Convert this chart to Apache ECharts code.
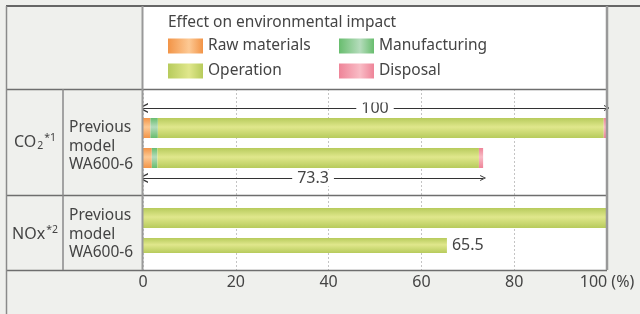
<!DOCTYPE html>
<html>
<head>
<meta charset="utf-8">
<script src="https://cdn.jsdelivr.net/npm/echarts@6/dist/echarts.min.js"></script>
<style>
  html, body { margin: 0; padding: 0; background: #eff0ed; }
  #chart { width: 640px; height: 314px; }
</style>
</head>
<body>
<div id="chart"></div>
<script>
// data
const groupLabels = ['{b|CO}{sub|2}{sup|*1}', '{b|NOx}{sup|*2}'];
const modelLabels = ['Previous\nmodel', 'WA600-6'];
const seriesNames = ['Raw materials', 'Manufacturing', 'Operation', 'Disposal'];
// rows: CO2 previous, CO2 WA600-6, NOx previous, NOx WA600-6
const rawMaterials = [1.6, 1.9, 0, 0];
const manufacturing = [1.6, 1.2, 0, 0];
const operation = [96.1, 69.3, 100, 65.5];
const disposal = [0.7, 0.9, 0, 0];
const co2Totals = [100, 73.3];
const xTicks = [0, 20, 40, 60, 80, 100];

// layout: 10px slots, bars and arrows placed in them
const slotCount = 15;
const barSlots = [2, 5, 11, 14];
const arrowSlots = [0, 7];

const slots = Array.from({ length: slotCount }, (_, i) => 's' + i);
const toSlots = (values, showLabelAt) => {
  const out = slots.map(() => '-');
  barSlots.forEach((s, i) => {
    if (values[i] > 0) {
      out[s] = { value: values[i] };
      if (showLabelAt === i) out[s].label = { show: true };
    }
  });
  return out;
};

const vGrad = (edge, mid) => ({
  type: 'linear', x: 0, y: 0, x2: 0, y2: 1,
  colorStops: [
    { offset: 0, color: edge },
    { offset: 0.45, color: mid },
    { offset: 1, color: edge }
  ]
});
const hGrad = (edge, mid) => ({
  type: 'linear', x: 0, y: 0, x2: 1, y2: 0,
  colorStops: [
    { offset: 0, color: edge },
    { offset: 0.6, color: mid },
    { offset: 1, color: edge }
  ]
});
const palette = [
  ['#f29447', '#fdc994'],
  ['#68bd6e', '#b5dcbc'],
  ['#b7cb5c', '#e0e78c'],
  ['#ee8498', '#f9bcc6']
];

const font = 'Noto Sans';
const textColor = '#444';

const chart = echarts.init(document.getElementById('chart'));

const chevron = 'path://M0,10 L5,0 L10,10 L8.4,10 L5,3.2 L1.6,10 Z';

const legendBase = {
  orient: 'vertical', top: 38, padding: 0,
  itemWidth: 35, itemHeight: 15, itemGap: 9, itemTextGap: 5,
  icon: 'rect',
  textStyle: { fontFamily: font, fontSize: 15.5, color: textColor }
};

const option = {
  backgroundColor: '#eff0ed',
  textStyle: { fontFamily: font },
  animation: false,
  title: {
    text: 'Effect on environmental impact',
    left: 168, top: 15, padding: 0,
    textStyle: { fontFamily: font, fontSize: 15.5, fontWeight: 'normal', color: textColor }
  },
  legend: [
    Object.assign({}, legendBase, {
      left: 168,
      data: [0, 2].map(i => ({ name: seriesNames[i], itemStyle: { color: hGrad(palette[i][0], palette[i][1]) } }))
    }),
    Object.assign({}, legendBase, {
      left: 339,
      data: [1, 3].map(i => ({ name: seriesNames[i], itemStyle: { color: hGrad(palette[i][0], palette[i][1]) } }))
    })
  ],
  grid: [
    { left: 143, right: 33, top: 89, bottom: 44 },
    { left: 143, right: 33, top: 103, bottom: 61 }
  ],
  xAxis: [
    {
      gridIndex: 0, type: 'value', min: 0, max: 100, interval: 20,
      axisLine: { show: false }, axisTick: { show: false },
      axisLabel: {
        margin: 4, fontFamily: font, fontSize: 16, color: textColor,
        formatter: v => (v === 100 ? '100 (%)' : String(v))
      },
      splitLine: { show: true, lineStyle: { color: '#c4c4c4', type: [2, 2], width: 1 } }
    },
    {
      gridIndex: 1, type: 'value', min: 0, max: 100,
      axisLine: { show: false }, axisTick: { show: false },
      axisLabel: { show: false }, splitLine: { show: false }
    }
  ],
  yAxis: [
    { gridIndex: 0, type: 'category', data: [''], show: false },
    { gridIndex: 1, type: 'category', data: slots, inverse: true, show: false }
  ],
  series: [
    ...[rawMaterials, manufacturing, operation, disposal].map((vals, i) => ({
      name: seriesNames[i],
      type: 'bar',
      stack: 'total',
      xAxisIndex: 1, yAxisIndex: 1,
      barWidth: 20,
      itemStyle: { color: vGrad(palette[i][0], palette[i][1]) },
      label: {
        show: false, position: 'right', distance: 5,
        fontFamily: font, fontSize: 16, color: textColor
      },
      data: toSlots(vals, i === 2 ? 3 : -1)
    })),
    {
      type: 'lines',
      coordinateSystem: 'cartesian2d',
      xAxisIndex: 1, yAxisIndex: 1,
      symbol: [chevron, chevron],
      symbolSize: [10, 6],
      lineStyle: { color: '#333', width: 1.2, opacity: 1, curveness: 0 },
      label: {
        show: true, position: 'middle', distance: 0, verticalAlign: 'middle',
        fontFamily: font, fontSize: 16, color: textColor,
        backgroundColor: '#fff', padding: [0, 5],
        formatter: p => String(p.data.total)
      },
      data: co2Totals.map((t, i) => ({
        total: t,
        coords: [[0, arrowSlots[i]], [t, arrowSlots[i]]]
      }))
    }
  ],
  graphic: [
    { type: 'rect', z: -1, silent: true, shape: { x: 143, y: 6, width: 464, height: 264 }, style: { fill: '#fff' } },
    // table lines
    { type: 'line', z: 100, shape: { x1: 6, y1: 6, x2: 640, y2: 6 }, style: { stroke: '#666', lineWidth: 2 } },
    { type: 'line', z: 100, shape: { x1: 6, y1: 89.5, x2: 607, y2: 89.5 }, style: { stroke: '#6e6e6e', lineWidth: 1.5 } },
    { type: 'line', z: 100, shape: { x1: 6, y1: 195.5, x2: 607, y2: 195.5 }, style: { stroke: '#6e6e6e', lineWidth: 1.5 } },
    { type: 'line', z: 100, shape: { x1: 6, y1: 270.5, x2: 607, y2: 270.5 }, style: { stroke: '#6e6e6e', lineWidth: 1.5 } },
    { type: 'line', z: 100, shape: { x1: 6.5, y1: 6, x2: 6.5, y2: 314 }, style: { stroke: '#8a8a8a', lineWidth: 1.5 } },
    { type: 'line', z: 100, shape: { x1: 63, y1: 89, x2: 63, y2: 270 }, style: { stroke: '#8a8a8a', lineWidth: 1.5 } },
    { type: 'line', z: 100, shape: { x1: 142.5, y1: 6, x2: 142.5, y2: 270 }, style: { stroke: '#999', lineWidth: 2 } },
    { type: 'line', z: 100, shape: { x1: 607, y1: 6, x2: 607, y2: 270 }, style: { stroke: '#999', lineWidth: 2.5 } },
    // row labels
    ...groupLabels.map((g, i) => ({
      type: 'text', z: 100, x: 35, y: i === 0 ? 142 : 234,
      style: {
        text: g, align: 'center', verticalAlign: 'middle',
        rich: {
          b: { fontFamily: font, fontSize: 16, fill: textColor },
          sub: { fontFamily: font, fontSize: 10.5, fill: textColor, padding: [8, 0, 0, 1] },
          sup: { fontFamily: font, fontSize: 10.5, fill: textColor, padding: [0, 0, 8, 1] }
        }
      }
    })),
    ...[146.5, 234.5].map(cy => ({
      type: 'text', z: 100, x: 69, y: cy,
      style: {
        text: modelLabels.join('\n'), align: 'left', verticalAlign: 'middle',
        fontFamily: font, fontSize: 15.5, lineHeight: 18.5, fill: textColor
      }
    }))
  ]
};

chart.setOption(option);
</script>
</body>
</html>
